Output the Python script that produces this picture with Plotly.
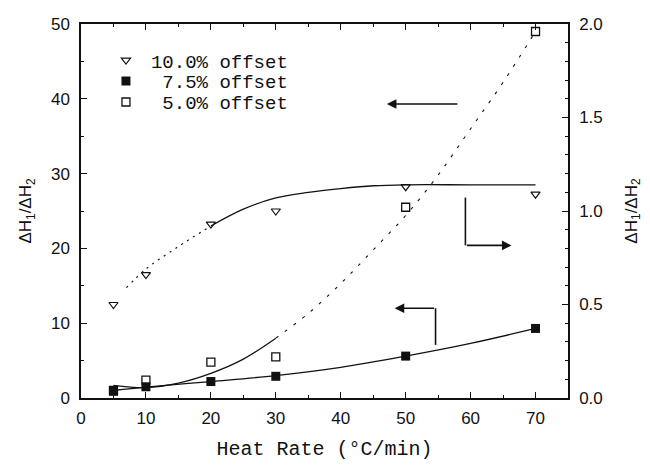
import plotly.graph_objects as go

# ---------------- data ----------------
heat_rate = [5, 10, 20, 30, 50, 70]

# 10.0 % offset  (right axis, open down-triangles)
off10 = [0.50, 0.66, 0.93, 1.00, 1.13, 1.09]
# 7.5 % offset   (left axis, filled squares)
off75 = [0.9, 1.5, 2.2, 2.9, 5.6, 9.3]
# 5.0 % offset   (left axis, open squares)
off50 = [1.0, 2.4, 4.8, 5.5, 25.5, 49.0]

# fitted curves
fit10_dot_x = [7, 10, 15, 20]
fit10_dot_y = [0.59, 0.69, 0.81, 0.92]
fit10_x = [20, 25, 30, 35, 40, 45, 50, 60, 70]
fit10_y = [0.92, 1.01, 1.07, 1.10, 1.12, 1.135, 1.14, 1.14, 1.14]

fit75_x = [5, 10, 20, 30, 40, 50, 60, 70]
fit75_y = [1.0, 1.45, 2.2, 3.0, 4.1, 5.6, 7.3, 9.3]

fit50_x = [5, 10, 15, 20, 25, 30]
fit50_y = [1.7, 1.4, 2.0, 3.3, 5.2, 8.0]
fit50_dot_x = [30, 35, 40, 45, 50, 55, 60, 65, 70]
fit50_dot_y = [8.0, 11.3, 15.3, 19.8, 24.4, 29.8, 36.0, 42.2, 49.0]

legend_names = ["10.0% offset", "\u00a07.5% offset", "\u00a05.0% offset"]

# arrows (data coordinates of the left axis)
arrow1_tail = (58.2, 39.3)
arrow1_head = (47.1, 39.3)
arrow2_path = [(59.2, 26.8), (59.2, 20.4), (66.3, 20.4)]
arrow3_path = [(54.6, 7.1), (54.6, 12.0), (48.3, 12.0)]

x_ticks = [0, 10, 20, 30, 40, 50, 60, 70]

# ---------------- figure ----------------
BLACK = "#111111"
fig = go.Figure()

# curves
fig.add_trace(go.Scatter(x=fit10_dot_x, y=fit10_dot_y, yaxis="y2", mode="lines",
                         line=dict(color=BLACK, width=1.2, dash="2px,5px", shape="spline"),
                         showlegend=False, hoverinfo="skip"))
fig.add_trace(go.Scatter(x=fit10_x, y=fit10_y, yaxis="y2", mode="lines",
                         line=dict(color=BLACK, width=1.3, shape="spline"),
                         showlegend=False, hoverinfo="skip"))
fig.add_trace(go.Scatter(x=fit75_x, y=fit75_y, mode="lines",
                         line=dict(color=BLACK, width=1.3, shape="spline"),
                         showlegend=False, hoverinfo="skip"))
fig.add_trace(go.Scatter(x=fit50_x, y=fit50_y, mode="lines",
                         line=dict(color=BLACK, width=1.2, shape="spline"),
                         showlegend=False, hoverinfo="skip"))
fig.add_trace(go.Scatter(x=fit50_dot_x, y=fit50_dot_y, mode="lines",
                         line=dict(color=BLACK, width=1.1, dash="3px,8px", shape="spline"),
                         showlegend=False, hoverinfo="skip"))

# data points
fig.add_trace(go.Scatter(x=heat_rate, y=off50, mode="markers", name=legend_names[2],
                         marker=dict(symbol="square-open", size=8, color=BLACK,
                                     line=dict(width=1.3, color=BLACK)),
                         legend="legend3"))
fig.add_trace(go.Scatter(x=heat_rate, y=off75, mode="markers", name=legend_names[1],
                         marker=dict(symbol="square", size=9, color=BLACK),
                         legend="legend2"))
fig.add_trace(go.Scatter(x=heat_rate, y=off10, yaxis="y2", mode="markers", name=legend_names[0],
                         marker=dict(symbol="triangle-down-open", size=8, color=BLACK,
                                     line=dict(width=1.2, color=BLACK)),
                         legend="legend"))

# arrows
fig.add_annotation(x=arrow1_head[0], y=arrow1_head[1], ax=arrow1_tail[0], ay=arrow1_tail[1],
                   xref="x", yref="y", axref="x", ayref="y", text="", showarrow=True,
                   arrowhead=2, arrowsize=1.2, arrowwidth=1.6, arrowcolor=BLACK)
for path in (arrow2_path, arrow3_path):
    (x0, y0), (x1, y1), (x2, y2) = path
    fig.add_shape(type="line", xref="x", yref="y", x0=x0, y0=y0, x1=x1, y1=y1,
                  line=dict(color=BLACK, width=1.6))
    fig.add_annotation(x=x2, y=y2, ax=x1, ay=y1, xref="x", yref="y", axref="x", ayref="y",
                       text="", showarrow=True, arrowhead=2, arrowsize=1.2,
                       arrowwidth=1.6, arrowcolor=BLACK)

tickfont = dict(family="Liberation Sans, Arial, sans-serif", size=17, color=BLACK)
legfont = dict(family="Liberation Mono, Courier New, monospace", size=19, color=BLACK)
leg_common = dict(x=0.041, xanchor="left", yanchor="middle", font=legfont,
                  bgcolor="rgba(0,0,0,0)", borderwidth=0, itemwidth=40)

# the page body adds an 8 px offset; margins compensate so the plot area sits
# at the reference position in the window
fig.update_layout(
    width=650, height=472,
    margin=dict(l=73, r=90, t=16, b=82, autoexpand=False),
    paper_bgcolor="white", plot_bgcolor="white",
    legend=dict(y=0.903, **leg_common),
    legend2=dict(y=0.847, **leg_common),
    legend3=dict(y=0.791, **leg_common),
    xaxis=dict(range=[0, 75], tickvals=x_ticks, ticks="inside", ticklen=6, tickwidth=1.2,
               tickcolor=BLACK, showline=True, linecolor=BLACK, linewidth=1.5,
               mirror="ticks", showgrid=False, zeroline=False, tickfont=tickfont,
               ticklabelstandoff=4, automargin=False,
               minor=dict(dtick=5, tick0=0, ticks="inside", ticklen=3, tickcolor=BLACK,
                          showgrid=False),
               title=dict(text="Heat Rate (°C/min)",
                          font=dict(family="Liberation Mono, Courier New, monospace",
                                    size=20, color=BLACK),
                          standoff=14)),
    yaxis=dict(range=[0, 50], dtick=10, tick0=0, ticks="inside", ticklen=6, tickwidth=1.2,
               tickcolor=BLACK, showline=True, linecolor=BLACK, linewidth=1.5,
               showgrid=False, zeroline=False, tickfont=tickfont, ticklabelstandoff=6,
               automargin=False,
               minor=dict(dtick=5, tick0=0, ticks="inside", ticklen=3, tickcolor=BLACK,
                          showgrid=False),
               title=dict(text="ΔH<sub>1</sub>/ΔH<sub>2</sub>",
                          font=dict(family="Liberation Sans, Arial, sans-serif", size=17,
                                    color=BLACK),
                          standoff=15)),
    yaxis2=dict(range=[0, 2], dtick=0.5, tick0=0, tickformat=".1f", overlaying="y",
                side="right", ticks="inside", ticklen=6, tickwidth=1.2, tickcolor=BLACK,
                showline=True, linecolor=BLACK, linewidth=1.5, showgrid=False,
                zeroline=False, tickfont=tickfont, ticklabelstandoff=6, automargin=False,
                minor=dict(dtick=0.1, tick0=0, ticks="inside", ticklen=3, tickcolor=BLACK,
                           showgrid=False),
                title=dict(text="ΔH<sub>1</sub>/ΔH<sub>2</sub>",
                           font=dict(family="Liberation Sans, Arial, sans-serif", size=17,
                                     color=BLACK),
                           standoff=23)),
)

fig.write_html("out.html")
